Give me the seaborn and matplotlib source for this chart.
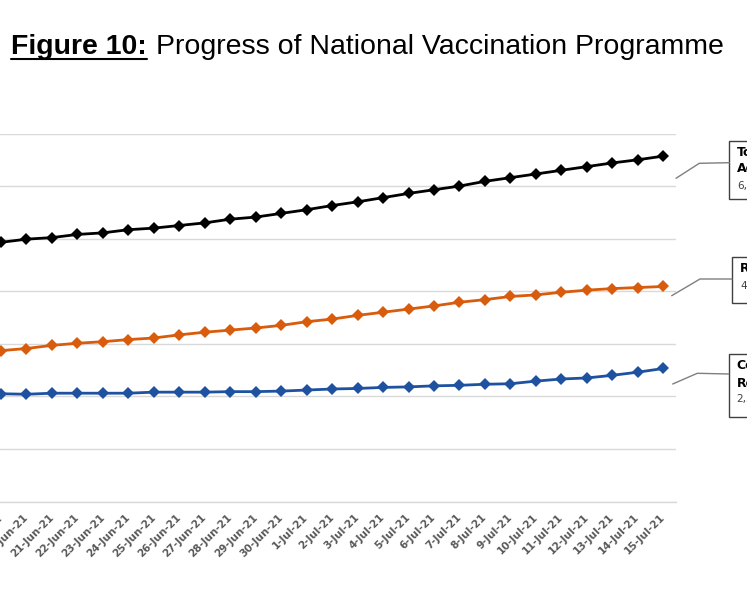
import numpy as np
import pandas as pd
import matplotlib.pyplot as plt
import seaborn as sns
from matplotlib.lines import Line2D
from matplotlib.patches import Rectangle

# dates shown on the category axis
dates = [f"{d}-Jun-21" for d in range(19, 31)] + [f"{d}-Jul-21" for d in range(1, 16)]

# cumulative counts, millions
total_doses = [4.93, 4.99, 5.02, 5.08, 5.11, 5.17, 5.20, 5.25, 5.30, 5.37,
               5.41, 5.48, 5.55, 5.63, 5.70, 5.78, 5.86, 5.93, 6.00, 6.09,
               6.16, 6.23, 6.30, 6.37, 6.44, 6.50, 6.57]
first_dose = [2.87, 2.91, 2.97, 3.01, 3.04, 3.08, 3.11, 3.17, 3.22, 3.26,
              3.30, 3.35, 3.42, 3.47, 3.54, 3.60, 3.66, 3.72, 3.79, 3.84,
              3.90, 3.93, 3.98, 4.02, 4.05, 4.07, 4.09]
completed = [2.05, 2.04, 2.06, 2.06, 2.06, 2.06, 2.08, 2.08, 2.08, 2.09,
             2.09, 2.10, 2.12, 2.14, 2.15, 2.17, 2.18, 2.20, 2.21, 2.23,
             2.24, 2.29, 2.33, 2.35, 2.40, 2.46, 2.53]

series_names = ["Total Administered", "Received 1st Dose", "Completed Regimen"]
series_colors = ["#000000", "#D95B0C", "#1E52A0"]

df = pd.DataFrame({"date": dates * 3,
                   "series": np.repeat(series_names, len(dates)),
                   "value": total_doses + first_dose + completed})

sns.set_style("white")
plt.rcParams['font.family'] = ['DejaVu Sans']

W, H = 747, 598
fig = plt.figure(figsize=(W / 100, H / 100), dpi=100)
fig.patch.set_facecolor('white')

def px(x, y):
    return x / W, 1 - y / H

ax = fig.add_axes([0, (H - 501.5) / H, 676 / W, 368 / H])

for name, color in zip(series_names, series_colors):
    sub = df[df['series'] == name]
    sns.lineplot(data=sub, x='date', y='value', ax=ax, color=color,
                 marker='D', markersize=6.5, markeredgewidth=0,
                 linewidth=2, sort=False, legend=False)

ax.set_yticks(np.arange(0, 8, 1))
ax.tick_params(axis='y', length=0, labelleft=False)
ax.yaxis.grid(True, color='#d9d9d9', lw=1)
ax.xaxis.grid(False)
for s in ['left', 'right', 'top']:
    ax.spines[s].set_visible(False)
ax.spines['bottom'].set_color('#d9d9d9')
ax.spines['bottom'].set_linewidth(1)

ax.set_xticks(range(len(dates)))
ax.set_xticklabels(dates, rotation=45, ha='right', va='center',
                   rotation_mode='anchor', fontsize=7.5,
                   color='#595959', fontweight='bold')
ax.tick_params(axis='x', which='major', length=0, pad=10)
ax.set_xticks(np.arange(-0.5, len(dates), 1), minor=True)
ax.tick_params(axis='x', which='minor', length=4, width=1, color='#d9d9d9')
ax.set_xlabel('')
ax.set_ylabel('')
# limits after the ticks, since set_xticks widens the view
ax.set_xlim(-0.04, 26.5)
ax.set_ylim(0, 7)

# title: bold underlined prefix + regular text
title_font = ['Liberation Sans', 'DejaVu Sans']
t1 = fig.text(*px(11, 53.5), "Figure 10:", fontsize=20.5, fontweight='bold',
              family=title_font, va='baseline', ha='left', color='black')
fig.canvas.draw()
bb = t1.get_window_extent()
fig.add_artist(Line2D([bb.x0 / W, bb.x1 / W], [1 - 59 / H, 1 - 59 / H],
                      color='black', lw=1.5))
fig.text(bb.x1 / W + 9 / W, 1 - 53.5 / H, "Progress of National Vaccination Programme",
         fontsize=20.5, family=title_font, va='baseline', ha='left', color='black')

# data callouts on the right
callouts = [
    (["Total", "Administered"], total_doses[-1], (729.3, 140.7, 199.3),
     [153, 169], 185.7, [(676, 178.3), (699.3, 163.3), (729.3, 162.7)]),
    (["Received 1st Dose"], first_dose[-1], (732, 256.7, 302.7),
     [269], 285.7, [(671.7, 295.7), (700, 279), (732, 279)]),
    (["Completed", "Regimen"], completed[-1], (728.7, 354.3, 416.7),
     [365.7, 383.3], 399.3, [(672.7, 384), (697.3, 373.3), (728.7, 374)]),
]
for lines, val, (bx, btop, bbot), ys, vy, leader in callouts:
    x0, y0 = px(bx, bbot)
    fig.add_artist(Rectangle((x0, y0), 120 / W, (bbot - btop) / H,
                             transform=fig.transFigure, facecolor='white',
                             edgecolor='#404040', lw=1))
    for txt, yy in zip(lines, ys):
        fig.text(*px(bx + 8, yy), txt, fontsize=9, fontweight='bold',
                 va='center', ha='left', color='black')
    fig.text(*px(bx + 8, vy), f"{val * 1e6:,.0f}", fontsize=7.5,
             va='center', ha='left', color='#404040')
    lx = [p[0] / W for p in leader]
    ly = [1 - p[1] / H for p in leader]
    fig.add_artist(Line2D(lx, ly, color='#7f7f7f', lw=1))

plt.savefig('out.png', dpi=100)
